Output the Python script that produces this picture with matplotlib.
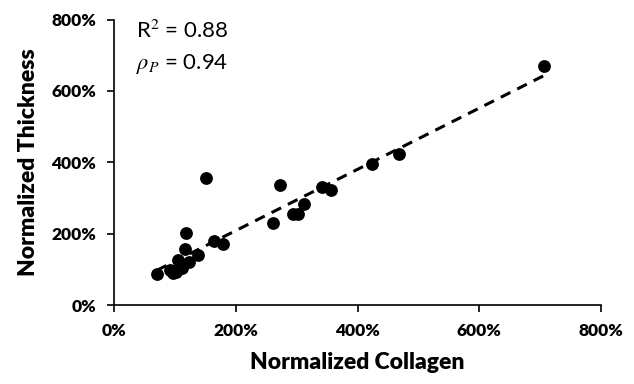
#!/usr/bin/env python3
"""Normalized thickness vs. normalized collagen scatter with linear trend."""

import matplotlib
import numpy as np

matplotlib.use("Agg")
import matplotlib.pyplot as plt
from matplotlib.ticker import FuncFormatter, MultipleLocator


# values in percent
collagen = [706, 468, 424, 342, 356, 312, 294, 302, 272, 261,
            150, 118, 116, 164, 179, 70, 92, 102, 111, 105,
            122, 138, 96, 108]
thickness = [671, 424, 395, 331, 322, 283, 256, 256, 337, 230,
             357, 201, 156, 179, 170, 86, 98, 93, 103, 126,
             121, 140, 90, 108]
r_squared = 0.88
rho_p = 0.94

FONT = "Lato"


def main() -> None:
    plt.rcParams["mathtext.fontset"] = "stix"
    x = np.array(collagen, dtype=float)
    y = np.array(thickness, dtype=float)

    fig = plt.figure(figsize=(6.34, 3.84), dpi=100)
    ax = fig.add_axes([0.1803, 0.2057, 0.948 - 0.1803, 0.949 - 0.2057])

    ax.scatter(x, y, s=85, color="black", linewidth=0, zorder=3)

    slope, intercept = np.polyfit(x, y, 1)
    xs = np.array([x.min(), x.max()])
    ax.plot(xs, slope * xs + intercept, color="black", linewidth=2.2,
            linestyle=(0, (3.5, 2.5)), zorder=2)

    ax.set_xlim(0, 800)
    ax.set_ylim(0, 800)
    ax.xaxis.set_major_locator(MultipleLocator(200))
    ax.yaxis.set_major_locator(MultipleLocator(200))
    pct = FuncFormatter(lambda v, _: f"{v:.0f}%")
    ax.xaxis.set_major_formatter(pct)
    ax.yaxis.set_major_formatter(pct)

    for side in ["top", "right"]:
        ax.spines[side].set_visible(False)
    for side in ["left", "bottom"]:
        ax.spines[side].set_linewidth(1.2)
    ax.tick_params(length=5, width=1.2, pad=8, labelsize=12.5)
    for lab in ax.get_xticklabels() + ax.get_yticklabels():
        lab.set_fontfamily(FONT)
        lab.set_fontweight("heavy")

    ax.set_xlabel("Normalized Collagen", fontsize=16.5, fontweight="heavy",
                  family=FONT, labelpad=9)
    ax.set_ylabel("Normalized Thickness", fontsize=16.5, fontweight="heavy",
                  family=FONT, labelpad=9)

    ax.text(0.045, 0.96, f"R$^2$ = {r_squared:.2f}", transform=ax.transAxes,
            fontsize=16, family=FONT, va="center")
    ax.text(0.045, 0.845, r"$\rho_P$" + f" = {rho_p:.2f}", transform=ax.transAxes,
            fontsize=16, family=FONT, va="center")

    fig.savefig("out.png", dpi=100)
    plt.close(fig)


if __name__ == "__main__":
    main()
